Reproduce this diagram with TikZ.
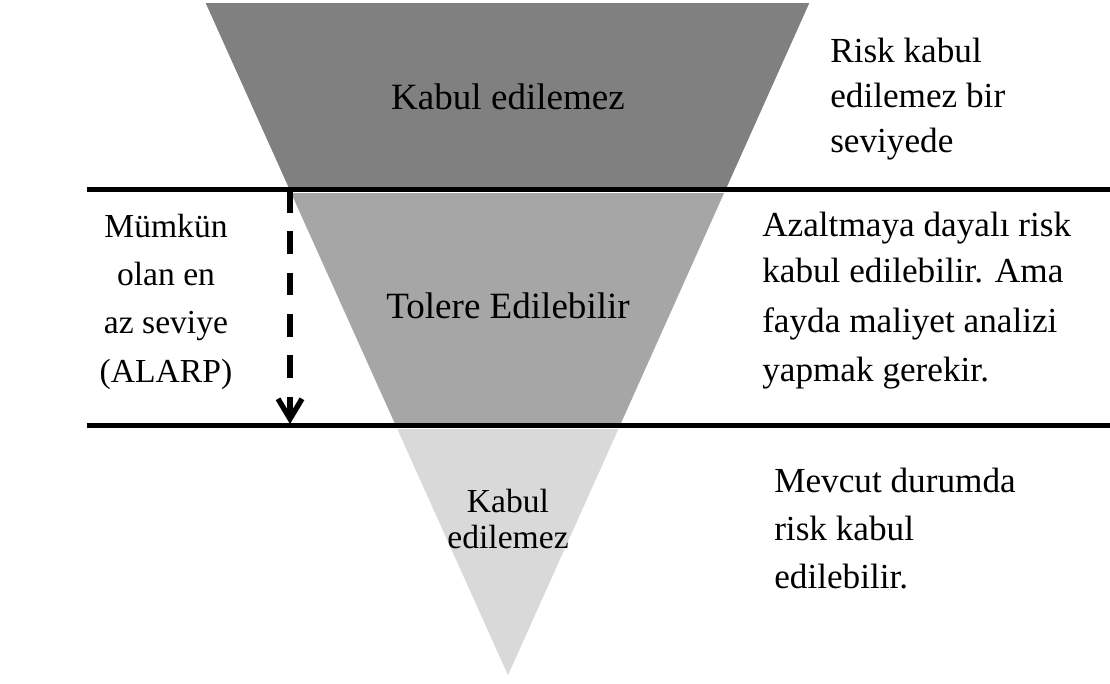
\documentclass[tikz,border=0pt]{standalone}
\usepackage{fontspec}
\setmainfont{Liberation Serif}
\usetikzlibrary{arrows.meta}
\definecolor{bandA}{HTML}{808080}
\definecolor{bandB}{HTML}{A6A6A6}
\definecolor{bandC}{HTML}{D9D9D9}
\begin{document}
\begin{tikzpicture}[x=0.75pt,y=-0.75pt,
  band/.style={draw=white,line width=1.5pt,line join=miter},
  rule/.style={line width=4.4pt},
  alarp/.style={line width=4.4pt,dash pattern=on 17pt off 14pt,
    -{Straight Barb[length=15pt,width=18pt,line width=4pt]}},
  txt/.style={inner sep=0pt,anchor=base},
  txtl/.style={inner sep=0pt,anchor=base west},
  big/.style={font=\fontsize{27.8pt}{32pt}\selectfont},
  side/.style={font=\fontsize{26.4pt}{30pt}\selectfont},
  small/.style={font=\fontsize{25.2pt}{28pt}\selectfont},
  tiny/.style={font=\fontsize{25.2pt}{28pt}\selectfont}]
\useasboundingbox (0,0) rectangle (1110,684);

% inverted pyramid, three bands
\fill[bandA,band] (204,2) -- (811,2) -- (727.2,189) -- (288.1,189) -- cycle;
\fill[bandB,band] (289.4,192) -- (725.8,192) -- (621.0,426) -- (394.7,426) -- cycle;
\fill[bandC,band] (395.6,428) -- (620.1,428) -- (508,678) -- cycle;

% level separators
\coordinate (s1w) at (87,189.5);  \coordinate (s1e) at (1110,189.5);
\coordinate (s2w) at (87,425.5);  \coordinate (s2e) at (1110,425.5);
\draw[rule] (s1w) -- (s1e);
\draw[rule] (s2w) -- (s2e);

% ALARP arrow
\coordinate (aTop) at (290,190);
\coordinate (aTip) at (290,424);
\draw[alarp] (aTop) -- (aTip);

% band labels
\node[txt,big] (t1) at (508,110) {Kabul edilemez};
\node[txt,big] (t2) at (508,319) {Tolere Edilebilir};
\node[txt,tiny] (t3a) at (508,512) {Kabul};
\node[txt,tiny] (t3b) at (508,548) {edilemez};

% left note
\node[txt,small] (l1) at (166,238) {Mümkün};
\node[txt,small] (l2) at (166,286) {olan en};
\node[txt,small] (l3) at (166,334) {az seviye};
\node[txt,small] (l4) at (166,382) {(ALARP)};

% right notes
\node[txtl,side] (r1) at (830,63) {Risk kabul};
\node[txtl,side] (r2) at (830,108) {edilemez bir};
\node[txtl,side] (r3) at (830,153) {seviyede};

\node[txtl,side] (m1) at (762,237) {Azaltmaya dayalı risk};
\node[txtl,side] (m2) at (762,283) {kabul edilebilir. Ama};
\node[txtl,side] (m3) at (762,332) {fayda maliyet analizi};
\node[txtl,side] (m4) at (762,381) {yapmak gerekir.};

\node[txtl,side] (b1) at (774,492) {Mevcut durumda};
\node[txtl,side] (b2) at (774,540) {risk kabul};
\node[txtl,side] (b3) at (774,588) {edilebilir.};
\end{tikzpicture}
\end{document}
